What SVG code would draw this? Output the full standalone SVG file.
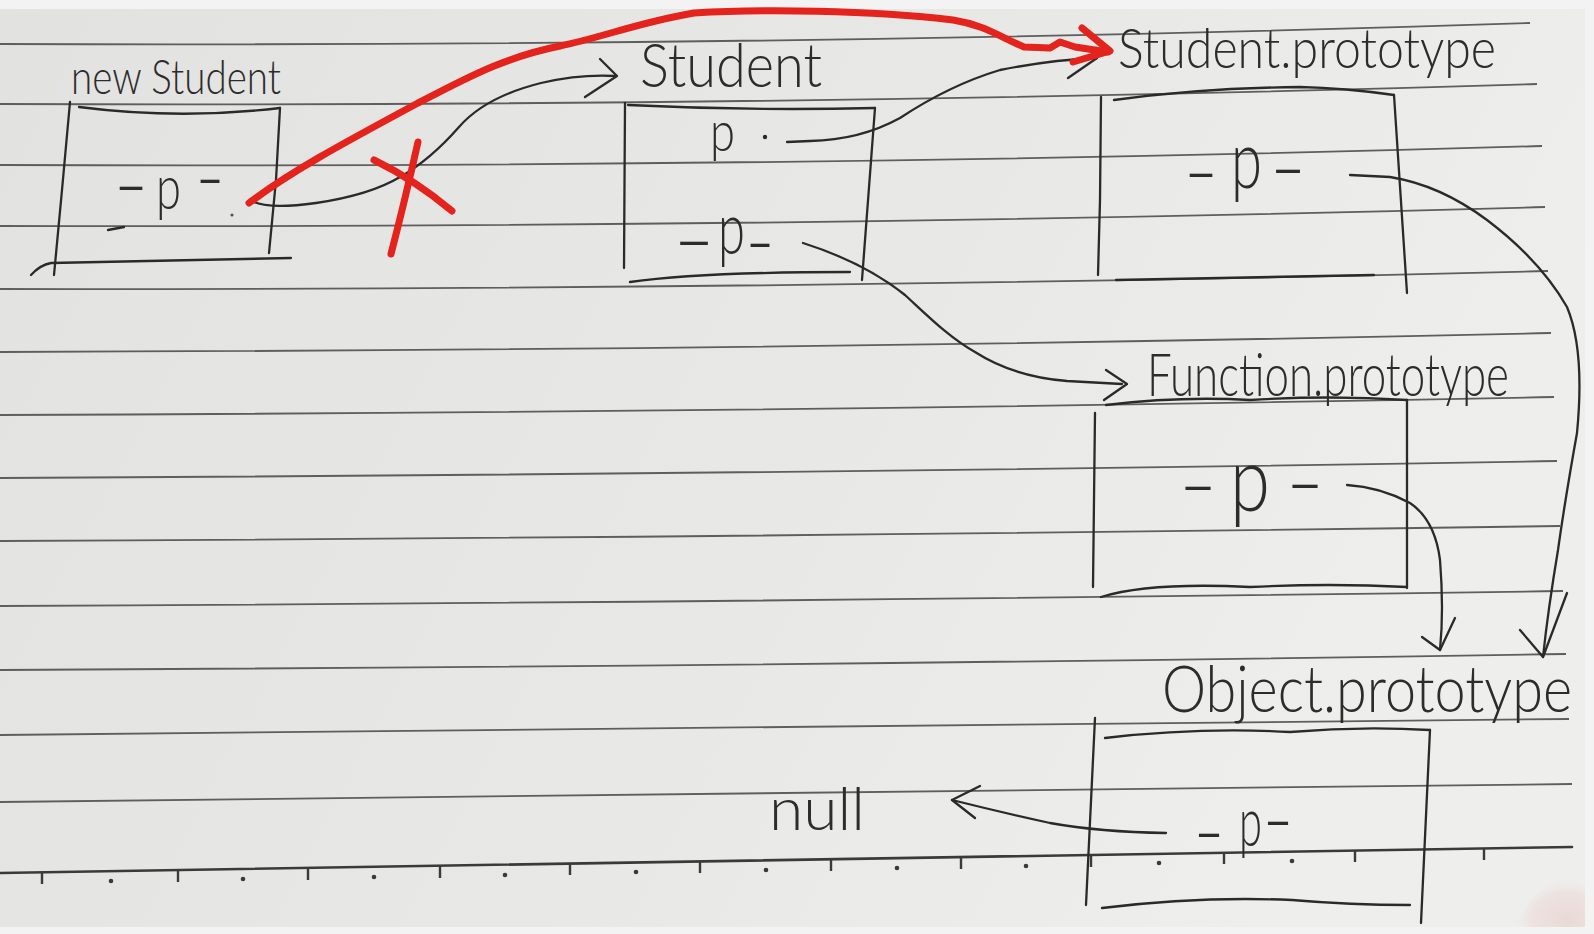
<svg xmlns="http://www.w3.org/2000/svg" width="1594" height="934" viewBox="0 0 1594 934">
<defs>
<linearGradient id="paperGrad" x1="0" y1="0" x2="1" y2="0.3">
<stop offset="0" stop-color="#e2e2e0"/>
<stop offset="0.6" stop-color="#e8e8e6"/>
<stop offset="1" stop-color="#eeeeec"/>
</linearGradient>
<radialGradient id="fingerGrad" cx="0.75" cy="0.85" r="0.75">
<stop offset="0" stop-color="#e9d9d6"/>
<stop offset="0.7" stop-color="#ede3e1"/>
<stop offset="1" stop-color="#eeeaea" stop-opacity="0"/>
</radialGradient>
<style>
.rule{fill:none;stroke:#5e5e5e;stroke-width:1.8}
.ruler{fill:none;stroke:#3a3a3a;stroke-width:2.6;stroke-linecap:round}
.tick{fill:none;stroke:#3a3a3a;stroke-width:2.4}
.dot{fill:#3a3a3a}
.pen{fill:none;stroke:#2a2a2a;stroke-width:2.3;stroke-linecap:round;stroke-linejoin:round}
.red{fill:none;stroke:#e4231c;stroke-width:7;stroke-linecap:round;stroke-linejoin:round}
.hand{font-family:"Lato","Open Sans","Liberation Sans",sans-serif;font-weight:300;fill:#2c2c2c}
.d{font-size:80px}
</style>
</defs>

<g id="paper">
<rect x="0" y="0" width="1594" height="934" fill="#f3f3f3"/>
<rect x="0" y="9" width="1585" height="918" fill="url(#paperGrad)"/>
<path d="M1515,927 Q1535,880 1578,874 L1585,876 L1585,927 Z" fill="url(#fingerGrad)"/>
<path class="rule" d="M0,44 Q800,47 1530,23"/>
<path class="rule" d="M0,104 Q800,107 1537,84"/>
<path class="rule" d="M0,165 Q800,168 1542,146"/>
<path class="rule" d="M0,226 Q800,228 1545,207"/>
<path class="rule" d="M0,289 Q800,290 1548,271"/>
<path class="rule" d="M0,352 Q800,350 1551,333"/>
<path class="rule" d="M0,415 Q800,412 1554,397"/>
<path class="rule" d="M0,478 Q800,474 1557,461"/>
<path class="rule" d="M0,541 Q800,537 1560,526"/>
<path class="rule" d="M0,606 Q800,602 1563,591"/>
<path class="rule" d="M0,670 Q800,666 1566,654"/>
<path class="rule" d="M0,735 Q800,730 1569,719"/>
<path class="rule" d="M0,802 Q800,795 1572,784"/>
<path class="ruler" d="M0,873 L1572,847"/>
<g class="tick">
<path d="M42,872 v12"/><path d="M178,870 v12"/><path d="M308,868 v12"/><path d="M440,866 v12"/>
<path d="M570,863 v12"/><path d="M700,861 v12"/><path d="M831,859 v12"/><path d="M961,857 v12"/>
<path d="M1091,855 v12"/><path d="M1224,852 v12"/><path d="M1355,850 v12"/><path d="M1484,848 v12"/>
</g>
<g class="dot">
<circle cx="111" cy="881" r="2.3"/><circle cx="243" cy="879" r="2.3"/><circle cx="374" cy="877" r="2.3"/>
<circle cx="505" cy="875" r="2.3"/><circle cx="636" cy="872" r="2.3"/><circle cx="766" cy="870" r="2.3"/>
<circle cx="897" cy="868" r="2.3"/><circle cx="1026" cy="866" r="2.3"/><circle cx="1159" cy="863" r="2.3"/>
<circle cx="1292" cy="861" r="2.3"/>
</g>
</g>

<g id="node-new-student">
<path class="pen" d="M70,102 L62,190 L54,275"/>
<path class="pen" d="M79,107 Q180,120 280,108"/>
<path class="pen" d="M280,108 L276,180 L269,253"/>
<path class="pen" d="M31,275 Q40,265 51,263 L291,258"/>
<text class="hand" x="71" y="94" font-size="48" textLength="210" lengthAdjust="spacingAndGlyphs">new Student</text>
<text class="hand"><tspan class="d" x="113" y="212" textLength="36" lengthAdjust="spacingAndGlyphs">-</tspan><tspan x="156" y="209" font-size="62" textLength="25" lengthAdjust="spacingAndGlyphs">p</tspan><tspan class="d" x="195" y="205" textLength="30" lengthAdjust="spacingAndGlyphs">-</tspan></text>
<path class="pen" d="M108,230 L124,227"/>
<circle cx="232" cy="215" r="1.6" fill="#555"/>
</g>

<g id="node-student">
<path class="pen" d="M625,103 L624,268"/>
<path class="pen" d="M628,105 Q750,111 875,108"/>
<path class="pen" d="M875,108 L862,280"/>
<path class="pen" d="M630,282 Q700,272 850,272"/>
<text class="hand" x="640" y="87" font-size="62" textLength="182" lengthAdjust="spacingAndGlyphs">Student</text>
<text class="hand" x="710" y="151" font-size="55" textLength="25" lengthAdjust="spacingAndGlyphs">p</text>
<circle cx="765" cy="137" r="2.2" fill="#2a2a2a"/>
<text class="hand"><tspan class="d" x="672" y="267" textLength="44" lengthAdjust="spacingAndGlyphs">-</tspan><tspan x="718" y="254" font-size="72" textLength="27" lengthAdjust="spacingAndGlyphs">p</tspan><tspan class="d" x="745" y="269" textLength="30" lengthAdjust="spacingAndGlyphs">-</tspan></text>
</g>

<g id="node-student-prototype">
<path class="pen" d="M1101,97 L1100,200 L1098,275"/>
<path class="pen" d="M1114,100 Q1200,88 1300,87 Q1345,88 1394,95"/>
<path class="pen" d="M1394,95 L1407,293"/>
<path class="pen" d="M1116,280 Q1250,277 1374,275"/>
<text class="hand" x="1118" y="68" font-size="56" textLength="378" lengthAdjust="spacingAndGlyphs">Student.prototype</text>
<text class="hand"><tspan class="d" x="1183" y="199" textLength="36" lengthAdjust="spacingAndGlyphs">-</tspan><tspan x="1231" y="188" font-size="80" textLength="31" lengthAdjust="spacingAndGlyphs">p</tspan><tspan class="d" x="1269" y="195" textLength="38" lengthAdjust="spacingAndGlyphs">-</tspan></text>
</g>

<g id="node-function-prototype">
<path class="pen" d="M1106,405 Q1180,396 1250,400 Q1330,395 1407,400"/>
<path class="pen" d="M1095,413 L1093,587"/>
<path class="pen" d="M1407,400 L1407,588"/>
<path class="pen" d="M1101,597 Q1150,582 1250,587 Q1330,583 1407,587"/>
<text class="hand" x="1147" y="396" font-size="60" textLength="362" lengthAdjust="spacingAndGlyphs">Function.prototype</text>
<text class="hand"><tspan class="d" x="1178" y="512" textLength="40" lengthAdjust="spacingAndGlyphs">-</tspan><tspan x="1230" y="511" font-size="90" textLength="40" lengthAdjust="spacingAndGlyphs">p</tspan><tspan class="d" x="1285" y="510" textLength="40" lengthAdjust="spacingAndGlyphs">-</tspan></text>
</g>

<g id="node-object-prototype">
<path class="pen" d="M1095,718 L1086,905"/>
<path class="pen" d="M1105,738 Q1200,727 1290,732 Q1360,726 1430,730"/>
<path class="pen" d="M1430,730 L1421,923"/>
<path class="pen" d="M1102,908 Q1200,896 1292,900 Q1350,905 1410,905"/>
<text class="hand" x="1162" y="712" font-size="66" textLength="410" lengthAdjust="spacingAndGlyphs">Object.prototype</text>
<text class="hand"><tspan class="d" x="1193" y="859" textLength="32" lengthAdjust="spacingAndGlyphs">-</tspan><tspan x="1239" y="846" font-size="68" textLength="23" lengthAdjust="spacingAndGlyphs">p</tspan><tspan class="d" x="1262" y="847" textLength="32" lengthAdjust="spacingAndGlyphs">-</tspan></text>
</g>

<g id="node-null">
<text class="hand" x="769" y="830" font-size="60" textLength="96" lengthAdjust="spacingAndGlyphs">null</text>
</g>

<g id="connectors">
<path class="pen" d="M250,200 Q265,210 316,203 Q370,195 400,177 Q430,160 459,127 Q485,97 541,83 Q580,74 615,76"/>
<path class="pen" d="M600,59 L617,76 L585,97"/>
<path class="pen" d="M787,142 L810,141 Q860,140 900,118 Q950,85 1000,70 Q1050,60 1097,58"/>
<path class="pen" d="M1068,78 L1097,58"/>
<path class="pen" d="M803,243 C850,258 880,275 905,295 C930,318 950,338 975,352 C1000,368 1030,378 1067,381 L1122,384"/>
<path class="pen" d="M1106,370 L1127,384 L1104,400"/>
<path class="pen" d="M1350,175 L1390,177 Q1440,185 1487,220 Q1540,260 1567,307 Q1585,350 1577,433 Q1565,500 1558,550 Q1548,610 1543,657"/>
<path class="pen" d="M1520,630 L1543,657 L1567,593"/>
<path class="pen" d="M1347,485 Q1380,487 1410,503 Q1435,520 1440,560 Q1444,610 1440,650"/>
<path class="pen" d="M1422,637 L1440,650 L1455,618"/>
<path class="pen" d="M1166,833 Q1100,832 1050,823 Q1000,812 952,800"/>
<path class="pen" d="M980,786 L952,800 L975,818"/>
<path class="red" d="M249,203 C290,172 340,145 418,103 C460,82 500,58 560,46 C600,38 640,22 694,13 C760,9 870,10 953,20 C985,25 1000,37 1024,47 L1050,48 L1060,42 L1075,47 L1108,52"/>
<path class="red" d="M1082,28 L1110,51 L1073,62" stroke-width="8"/>
</g>

<g id="strike">
<path class="red" stroke-width="6" d="M418,142 Q405,200 391,254"/>
<path class="red" stroke-width="6" d="M374,160 Q415,180 452,211"/>
</g>
</svg>
